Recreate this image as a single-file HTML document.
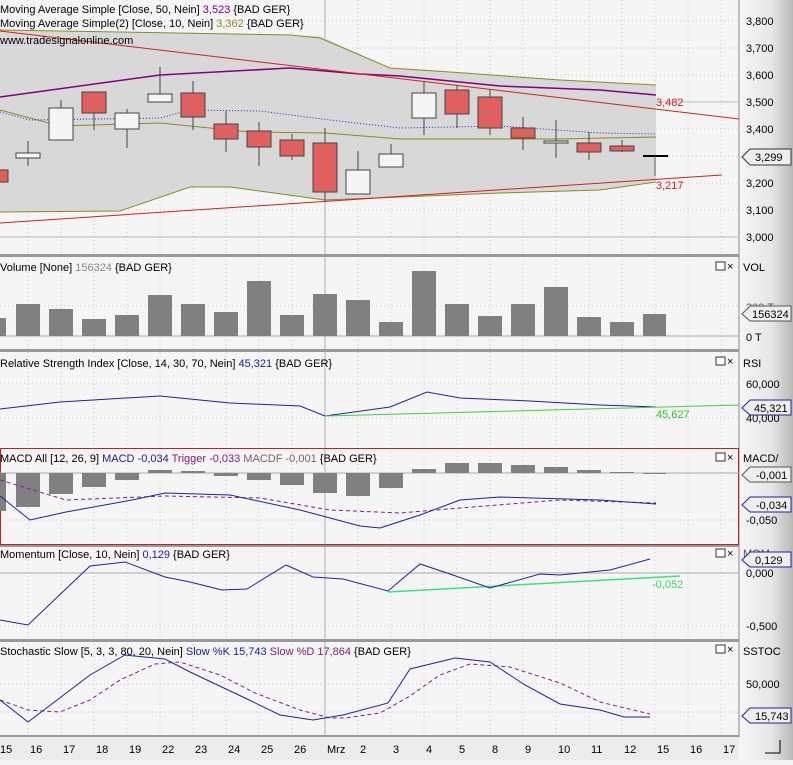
<!DOCTYPE html><html><head><meta charset="utf-8"><style>
body{margin:0;width:793px;height:760px;overflow:hidden;background:#f4f4f4;font-family:"Liberation Sans",sans-serif}
svg text{font-family:"Liberation Sans",sans-serif;font-size:11px}
</style></head><body>
<svg width="793" height="760" xmlns="http://www.w3.org/2000/svg">
<defs><linearGradient id="g" x1="0" x2="1"><stop offset="0" stop-color="#f6f6f6"/><stop offset="0.6" stop-color="#e6e6e6"/><stop offset="1" stop-color="#b8b8b8"/></linearGradient></defs>
<rect x="0" y="0" width="739" height="737" fill="#f5f5f5"/>
<rect x="739" y="0" width="54" height="760" fill="url(#g)"/>
<rect x="0" y="737" width="739" height="23" fill="#ececec"/>
<line x1="739" y1="0" x2="739" y2="737" stroke="#888"/>
<!-- vertical grid -->
<g stroke="#c8c8c8" stroke-dasharray="1,3">
<line x1="28" y1="0" x2="28" y2="737"/><line x1="61" y1="0" x2="61" y2="737"/><line x1="94" y1="0" x2="94" y2="737"/><line x1="127" y1="0" x2="127" y2="737"/><line x1="160" y1="0" x2="160" y2="737"/><line x1="193" y1="0" x2="193" y2="737"/><line x1="226" y1="0" x2="226" y2="737"/><line x1="259" y1="0" x2="259" y2="737"/><line x1="292" y1="0" x2="292" y2="737"/><line x1="358" y1="0" x2="358" y2="737"/><line x1="391" y1="0" x2="391" y2="737"/><line x1="424" y1="0" x2="424" y2="737"/><line x1="457" y1="0" x2="457" y2="737"/><line x1="490" y1="0" x2="490" y2="737"/><line x1="523" y1="0" x2="523" y2="737"/><line x1="556" y1="0" x2="556" y2="737"/><line x1="589" y1="0" x2="589" y2="737"/><line x1="622" y1="0" x2="622" y2="737"/><line x1="655" y1="0" x2="655" y2="737"/><line x1="688" y1="0" x2="688" y2="737"/><line x1="721" y1="0" x2="721" y2="737"/>
</g>
<line x1="325" y1="0" x2="325" y2="737" stroke="#b0b0b0"/>
<!-- horizontal grid main -->
<g stroke="#c8c8c8" stroke-dasharray="1,3">
<line x1="0" y1="21" x2="739" y2="21"/><line x1="0" y1="48" x2="739" y2="48"/><line x1="0" y1="75" x2="739" y2="75"/><line x1="0" y1="129" x2="739" y2="129"/><line x1="0" y1="156" x2="739" y2="156"/><line x1="0" y1="183" x2="739" y2="183"/><line x1="0" y1="210" x2="739" y2="210"/>
<line x1="0" y1="306" x2="739" y2="306"/><line x1="0" y1="383" x2="739" y2="383"/><line x1="0" y1="418" x2="739" y2="418"/><line x1="0" y1="520" x2="739" y2="520"/><line x1="0" y1="626" x2="739" y2="626"/><line x1="0" y1="684" x2="739" y2="684"/><line x1="0" y1="712" x2="739" y2="712"/>
</g>
<line x1="0" y1="102" x2="739" y2="102" stroke="#bbb"/><line x1="0" y1="237" x2="739" y2="237" stroke="#bbb"/>
<!-- band fill -->
<polygon points="0,30 120,32 320,36 390,68 450,72 560,80 656,85 656,182 600,190 500,193 400,197 325,200 230,187 190,187 120,211 0,212" fill="#d8d8d8"/>
<polyline points="0,30 120,32 290,35 320,38 390,68 450,72 560,80 656,85" fill="none" stroke="#8a8a20"/>
<polyline points="0,212 120,211 190,187 230,187 325,200 400,197 500,193 600,190 656,182" fill="none" stroke="#8a8a20"/>
<polyline points="0,110 60,126 160,123 250,132 325,133 400,139 560,139 656,137" fill="none" stroke="#8a8a20"/>
<polyline points="0,112 30,120 160,118 190,110 260,111 330,120 400,128 500,126 600,133 656,134" fill="none" stroke="#2020c0" stroke-dasharray="1,2"/>
<polyline points="0,97 160,75 290,68 360,74 400,76 500,86 600,90 656,95" fill="none" stroke="#800080" stroke-width="1.5"/>
<line x1="0" y1="31" x2="739" y2="119" stroke="#d02020"/>
<line x1="0" y1="223" x2="722" y2="175" stroke="#d02020"/>
<!-- candles -->
<g stroke="#444" fill="#e06060">
<rect x="-5" y="170" width="13" height="12"/>
<line x1="28" y1="141" x2="28" y2="166"/><rect x="16" y="153" width="24" height="5" fill="#f5f5f5"/>
<line x1="61" y1="100" x2="61" y2="140"/><rect x="49" y="108" width="24" height="32" fill="#f5f5f5"/>
<line x1="94" y1="92" x2="94" y2="130"/><rect x="82" y="92" width="24" height="21"/>
<line x1="127" y1="109" x2="127" y2="148"/><rect x="115" y="113" width="24" height="16" fill="#f5f5f5"/>
<line x1="160" y1="67" x2="160" y2="102"/><rect x="148" y="94" width="24" height="8" fill="#f5f5f5"/>
<line x1="193" y1="81" x2="193" y2="130"/><rect x="181" y="93" width="24" height="24"/>
<line x1="226" y1="111" x2="226" y2="152"/><rect x="214" y="124" width="24" height="15"/>
<line x1="259" y1="122" x2="259" y2="166"/><rect x="247" y="131" width="24" height="16"/>
<line x1="292" y1="134" x2="292" y2="160"/><rect x="280" y="140" width="24" height="16"/>
<line x1="325" y1="128" x2="325" y2="201"/><rect x="313" y="143" width="24" height="49"/>
<line x1="358" y1="151" x2="358" y2="194"/><rect x="346" y="170" width="24" height="24" fill="#f5f5f5"/>
<line x1="391" y1="144" x2="391" y2="167"/><rect x="379" y="154" width="24" height="13" fill="#f5f5f5"/>
<line x1="424" y1="82" x2="424" y2="135"/><rect x="412" y="93" width="24" height="25" fill="#f5f5f5"/>
<line x1="457" y1="86" x2="457" y2="128"/><rect x="445" y="90" width="24" height="24"/>
<line x1="490" y1="90" x2="490" y2="135"/><rect x="478" y="97" width="24" height="31"/>
<line x1="523" y1="117" x2="523" y2="150"/><rect x="511" y="128" width="24" height="10"/>
<line x1="556" y1="120" x2="556" y2="158"/><rect x="544" y="141" width="24" height="2" fill="#f5f5f5"/>
<line x1="589" y1="132" x2="589" y2="160"/><rect x="577" y="143" width="24" height="9"/>
<line x1="622" y1="140" x2="622" y2="152"/><rect x="610" y="146" width="24" height="5"/>
</g>
<line x1="643" y1="156" x2="668" y2="156" stroke="#000" stroke-width="2"/><line x1="655" y1="156" x2="655" y2="176" stroke="#666"/>
<text x="656" y="106" fill="#d02020">3,482</text><text x="656" y="189" fill="#d02020">3,217</text>
<text x="0" y="13" fill="#000">Moving Average Simple [Close, 50, Nein] <tspan fill="#800080">3,523</tspan> {BAD GER}</text>
<text x="0" y="27" fill="#000">Moving Average Simple(2) [Close, 10, Nein] <tspan fill="#8a8a20">3,362</tspan> {BAD GER}</text>
<text x="0" y="44" fill="#000">www.tradesignalonline.com</text>
<g fill="#000"><text x="746" y="25">3,800</text><text x="746" y="52">3,700</text><text x="746" y="79">3,600</text><text x="746" y="106">3,500</text><text x="746" y="133">3,400</text><text x="746" y="187">3,200</text><text x="746" y="214">3,100</text><text x="746" y="241">3,000</text></g>
<polygon points="742,157 750,149 791,149 791,165 750,165" fill="#eee" stroke="#333"/><text x="755" y="161">3,299</text>
<!-- separators -->
<g fill="#999"><rect x="0" y="254" width="739" height="3"/><rect x="0" y="349" width="739" height="3"/><rect x="0" y="544" width="739" height="3"/><rect x="0" y="639" width="739" height="3"/><rect x="0" y="735" width="739" height="2"/></g>
<rect x="0.5" y="448.5" width="738" height="96" fill="none" stroke="#c02020"/>
<!-- volume -->
<line x1="0" y1="336" x2="739" y2="336" stroke="#aaa"/>
<g fill="#808080">
<rect x="-8" y="318" width="14" height="18"/><rect x="16" y="304" width="24" height="32"/><rect x="49" y="309" width="24" height="27"/><rect x="82" y="319" width="24" height="17"/><rect x="115" y="315" width="24" height="21"/><rect x="148" y="295" width="24" height="41"/><rect x="181" y="304" width="24" height="32"/><rect x="214" y="312" width="24" height="24"/><rect x="247" y="281" width="24" height="55"/><rect x="280" y="315" width="24" height="21"/><rect x="313" y="294" width="24" height="42"/><rect x="346" y="300" width="24" height="36"/><rect x="379" y="322" width="24" height="14"/><rect x="412" y="271" width="24" height="65"/><rect x="445" y="304" width="24" height="32"/><rect x="478" y="316" width="24" height="20"/><rect x="511" y="304" width="24" height="32"/><rect x="544" y="287" width="24" height="49"/><rect x="577" y="317" width="24" height="19"/><rect x="610" y="322" width="24" height="14"/><rect x="643" y="314" width="23" height="22"/>
</g>
<text x="0" y="271">Volume [None] <tspan fill="#888">156324</tspan> {BAD GER}</text>
<text x="743" y="271">VOL</text><text x="746" y="341">0 T</text><text x="746" y="311" fill="#555">200 T</text>
<polygon points="742,314 750,306 791,306 791,321 750,321" fill="#eee" stroke="#555"/><text x="752" y="318">156324</text>
<!-- RSI -->
<polyline points="0,409 60,402 160,396 230,403 300,406 325,416 390,407 427,392 460,398 530,401 600,405 656,407" fill="none" stroke="#2020a0"/>
<line x1="325" y1="416" x2="739" y2="405" stroke="#40d040"/>
<text x="656" y="418" fill="#30c030">45,627</text>
<text x="0" y="367">Relative Strength Index [Close, 14, 30, 70, Nein] <tspan fill="#2020a0">45,321</tspan> {BAD GER}</text>
<text x="743" y="367">RSI</text><text x="746" y="388">60,000</text><text x="746" y="422">40,000</text>
<polygon points="742,408 750,400 791,400 791,415 750,415" fill="#eee" stroke="#2020a0"/><text x="754" y="412">45,321</text>
<!-- MACD -->
<line x1="0" y1="473" x2="739" y2="473" stroke="#aaa"/>
<g fill="#808080">
<rect x="-8" y="473" width="14" height="38"/><rect x="16" y="473" width="24" height="34"/><rect x="49" y="473" width="24" height="21"/><rect x="82" y="473" width="24" height="14"/><rect x="115" y="473" width="24" height="7"/><rect x="148" y="470" width="24" height="3"/><rect x="181" y="471" width="24" height="2"/><rect x="214" y="473" width="24" height="3"/><rect x="247" y="473" width="24" height="7"/><rect x="280" y="473" width="24" height="12"/><rect x="313" y="473" width="24" height="20"/><rect x="346" y="473" width="24" height="23"/><rect x="379" y="473" width="24" height="15"/><rect x="412" y="469" width="24" height="4"/><rect x="445" y="463" width="24" height="10"/><rect x="478" y="463" width="24" height="10"/><rect x="511" y="465" width="24" height="8"/><rect x="544" y="467" width="24" height="6"/><rect x="577" y="470" width="24" height="3"/><rect x="610" y="472" width="24" height="1"/><rect x="643" y="473" width="23" height="1"/>
</g>
<polyline points="0,480 66,500 165,496 260,498 330,510 400,513 460,508 560,500 656,503" fill="none" stroke="#802080" stroke-dasharray="4,3"/>
<polyline points="0,496 30,520 66,512 132,500 165,493 230,495 300,510 360,526 380,528 420,515 460,500 500,497 600,500 656,504" fill="none" stroke="#2020a0"/>
<text x="0" y="462">MACD All [12, 26, 9] <tspan fill="#2020a0">MACD -0,034</tspan> <tspan fill="#802080">Trigger -0,033</tspan> <tspan fill="#806060">MACDF -0,001</tspan> {BAD GER}</text>
<text x="743" y="462">MACD/</text>
<polygon points="742,475 750,467 791,467 791,482 750,482" fill="#eee" stroke="#555"/><text x="756" y="479">-0,001</text>
<polygon points="742,505 750,497 791,497 791,512 750,512" fill="#eee" stroke="#2020a0"/><text x="756" y="509">-0,034</text>
<text x="746" y="524">-0,050</text>
<!-- Momentum -->
<line x1="0" y1="573" x2="739" y2="573" stroke="#aaa"/>
<line x1="388" y1="592" x2="680" y2="576" stroke="#40e080" stroke-width="1.5"/>
<polyline points="0,620 28,625 90,566 125,562 165,577 190,582 222,590 247,589 286,565 313,577 343,579 388,591 420,564 450,574 490,588 540,574 560,575 610,570 650,559" fill="none" stroke="#2020a0"/>
<text x="652" y="588" fill="#40d070">-0,052</text>
<text x="0" y="558">Momentum [Close, 10, Nein] <tspan fill="#2020a0">0,129</tspan> {BAD GER}</text>
<text x="743" y="557" fill="#555">MOM</text>
<polygon points="742,560 750,552 791,552 791,567 750,567" fill="#eee" stroke="#2020a0"/><text x="755" y="564">0,129</text>
<text x="746" y="577">0,000</text><text x="746" y="630">-0,500</text>
<!-- Stoch -->
<polyline points="0,700 28,710 60,712 90,700 120,680 155,664 180,662 220,675 255,693 300,710 330,718 345,718 380,713 410,696 440,675 470,664 510,667 560,683 600,702 650,714" fill="none" stroke="#802080" stroke-dasharray="4,3"/>
<polyline points="0,700 28,722 90,675 125,655 165,659 190,672 245,698 280,715 313,720 343,715 388,703 410,669 455,658 490,662 525,685 560,704 600,710 624,717 650,717" fill="none" stroke="#2020a0"/>
<text x="0" y="655">Stochastic Slow [5, 3, 3, 80, 20, Nein] <tspan fill="#2020a0">Slow %K 15,743</tspan> <tspan fill="#802080">Slow %D 17,864</tspan> {BAD GER}</text>
<text x="743" y="655">SSTOC</text><text x="746" y="688">50,000</text>
<polygon points="742,716 750,708 791,708 791,723 750,723" fill="#eee" stroke="#2020a0"/><text x="755" y="720">15,743</text>
<!-- panel icons -->
<g fill="#fff" stroke="#333"><rect x="716" y="262" width="9" height="8"/><rect x="716" y="357" width="9" height="8"/><rect x="716" y="453" width="9" height="8"/><rect x="716" y="549" width="9" height="8"/><rect x="716" y="645" width="9" height="8"/></g>
<g font-size="10"><text x="727" y="270">×</text><text x="727" y="365">×</text><text x="727" y="461">×</text><text x="727" y="557">×</text><text x="727" y="653">×</text></g>
<!-- x axis -->
<g fill="#000" font-size="12">
<text x="0" y="753">15</text><text x="30" y="753">16</text><text x="63" y="753">17</text><text x="96" y="753">18</text><text x="129" y="753">19</text><text x="162" y="753">22</text><text x="195" y="753">23</text><text x="228" y="753">24</text><text x="261" y="753">25</text><text x="294" y="753">26</text><text x="327" y="753">Mrz</text><text x="360" y="753">2</text><text x="393" y="753">3</text><text x="426" y="753">4</text><text x="459" y="753">5</text><text x="492" y="753">8</text><text x="525" y="753">9</text><text x="558" y="753">10</text><text x="591" y="753">11</text><text x="624" y="753">12</text><text x="657" y="753">15</text><text x="690" y="753">16</text><text x="723" y="753">17</text>
</g>
<polyline points="765,753 780,753 780,740" fill="none" stroke="#000"/>
</svg>
</body></html>
